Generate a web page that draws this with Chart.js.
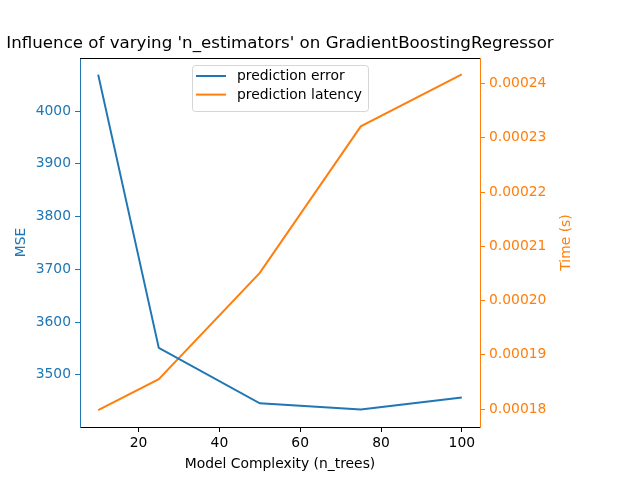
<!DOCTYPE html>
<html>
<head>
<meta charset="utf-8">
<script src="https://cdn.jsdelivr.net/npm/chart.js@4.4.1/dist/chart.umd.min.js"></script>
<style>
  html, body { margin: 0; padding: 0; background: #fff; }
</style>
</head>
<body>
<canvas id="chart" width="640" height="480"></canvas>
<script>
// values
const nTrees = [10, 25, 50, 75, 100];
const mseValues = [4069, 3551, 3446, 3434, 3457];
const latencyValues = [0.0001798, 0.0001855, 0.0002051, 0.0002321, 0.0002417];

const xTicks = [20, 40, 60, 80, 100];
const mseTicks = [3500, 3600, 3700, 3800, 3900, 4000];
const timeTicks = [0.00018, 0.00019, 0.00020, 0.00021, 0.00022, 0.00023, 0.00024];
const timeTickLabels = ['0.00018', '0.00019', '0.00020', '0.00021', '0.00022', '0.00023', '0.00024'];

const BLUE = '#1f77b4';
const ORANGE = '#ff7f0e';
const FONT = "'DejaVu Sans', sans-serif";

Chart.defaults.font.family = FONT;
Chart.defaults.font.size = 13.89;

function toPoints(xs, ys) {
    return xs.map((x, i) => ({ x: x, y: ys[i] }));
}

// title, top spine, right axis label and the boxed legend, matplotlib style
const decorations = {
    id: 'decorations',
    afterDraw(chart) {
        const ctx = chart.ctx;
        const area = chart.chartArea;
        ctx.save();
        // top spine
        ctx.strokeStyle = '#000';
        ctx.lineWidth = 1.1;
        ctx.beginPath();
        ctx.moveTo(area.left, area.top + 0.5);
        ctx.lineTo(area.right, area.top + 0.5);
        ctx.stroke();

        // title
        ctx.fillStyle = '#000';
        ctx.font = '16.67px ' + FONT;
        ctx.textAlign = 'center';
        ctx.textBaseline = 'middle';
        ctx.fillText("Influence of varying 'n_estimators' on GradientBoostingRegressor",
            (area.left + area.right) / 2, 44);

        // right axis label, reading bottom to top
        ctx.save();
        ctx.translate(566, (area.top + area.bottom) / 2);
        ctx.rotate(-Math.PI / 2);
        ctx.fillStyle = ORANGE;
        ctx.font = '13.89px ' + FONT;
        ctx.fillText('Time (s)', 0, 0);
        ctx.restore();

        // legend
        const w = 176, h = 46;
        const lx = (area.left + area.right) / 2 - w / 2 + 0.5;
        const ly = area.top + 7.5;
        ctx.fillStyle = 'rgba(255,255,255,0.8)';
        ctx.strokeStyle = 'rgba(204,204,204,0.8)';
        ctx.lineWidth = 1;
        ctx.beginPath();
        ctx.roundRect(lx, ly, w, h, 3);
        ctx.fill();
        ctx.stroke();
        ctx.font = '13.89px ' + FONT;
        ctx.textAlign = 'left';
        chart.data.datasets.forEach((ds, i) => {
            const y = ly + 10.5 + i * 18.6;
            ctx.strokeStyle = ds.borderColor;
            ctx.lineWidth = 2;
            ctx.beginPath();
            ctx.moveTo(lx + 3.5, y);
            ctx.lineTo(lx + 33.5, y);
            ctx.stroke();
            ctx.fillStyle = '#000';
            ctx.fillText(ds.label, lx + 44.5, y + 0.5);
        });
        ctx.restore();
    }
};

new Chart(document.getElementById('chart'), {
    type: 'line',
    data: {
        datasets: [{
            label: 'prediction error',
            data: toPoints(nTrees, mseValues),
            borderColor: BLUE,
            backgroundColor: BLUE,
            borderWidth: 2,
            pointRadius: 0,
            tension: 0,
            yAxisID: 'yMse'
        }, {
            label: 'prediction latency',
            data: toPoints(nTrees, latencyValues),
            borderColor: ORANGE,
            backgroundColor: ORANGE,
            borderWidth: 2,
            pointRadius: 0,
            tension: 0,
            yAxisID: 'yTime'
        }]
    },
    options: {
        responsive: false,
        animation: false,
        devicePixelRatio: 1,
        layout: { padding: { top: 58, left: 0, right: 0, bottom: 0 } },
        plugins: {
            legend: { display: false },
            tooltip: { enabled: false }
        },
        scales: {
            x: {
                type: 'linear',
                min: 5.5,
                max: 104.5,
                afterBuildTicks: s => { s.ticks = xTicks.map(v => ({ value: v })); },
                afterFit: s => { s.height = 53; },
                ticks: { color: '#000', padding: 3, maxRotation: 0, autoSkip: false,
                    callback: v => String(v) },
                grid: { drawOnChartArea: false, tickLength: 5, color: '#000' },
                border: { color: '#000', width: 1 },
                title: { display: true, text: 'Model Complexity (n_trees)', color: '#000',
                    padding: { top: 0, bottom: 7 } }
            },
            yMse: {
                type: 'linear',
                position: 'left',
                min: 3401,
                max: 4100.5,
                afterBuildTicks: s => { s.ticks = mseTicks.map(v => ({ value: v })); },
                afterFit: s => { s.width = 80; },
                ticks: { color: BLUE, padding: 4, autoSkip: false, callback: v => String(v) },
                grid: { drawOnChartArea: false, tickLength: 5, color: BLUE },
                border: { color: BLUE, width: 1 },
                title: { display: true, text: 'MSE', color: BLUE, padding: { top: 13, bottom: 0 } }
            },
            yTime: {
                type: 'linear',
                position: 'right',
                min: 0.0001767,
                max: 0.0002447,
                afterBuildTicks: s => { s.ticks = timeTicks.map(v => ({ value: v })); },
                afterFit: s => { s.width = 160; },
                ticks: { color: ORANGE, padding: 4, autoSkip: false,
                    callback: (v, i) => timeTickLabels[i] },
                grid: { drawOnChartArea: false, tickLength: 5, color: ORANGE },
                border: { color: ORANGE, width: 1 }
            }
        }
    },
    plugins: [decorations]
});
</script>
</body>
</html>
